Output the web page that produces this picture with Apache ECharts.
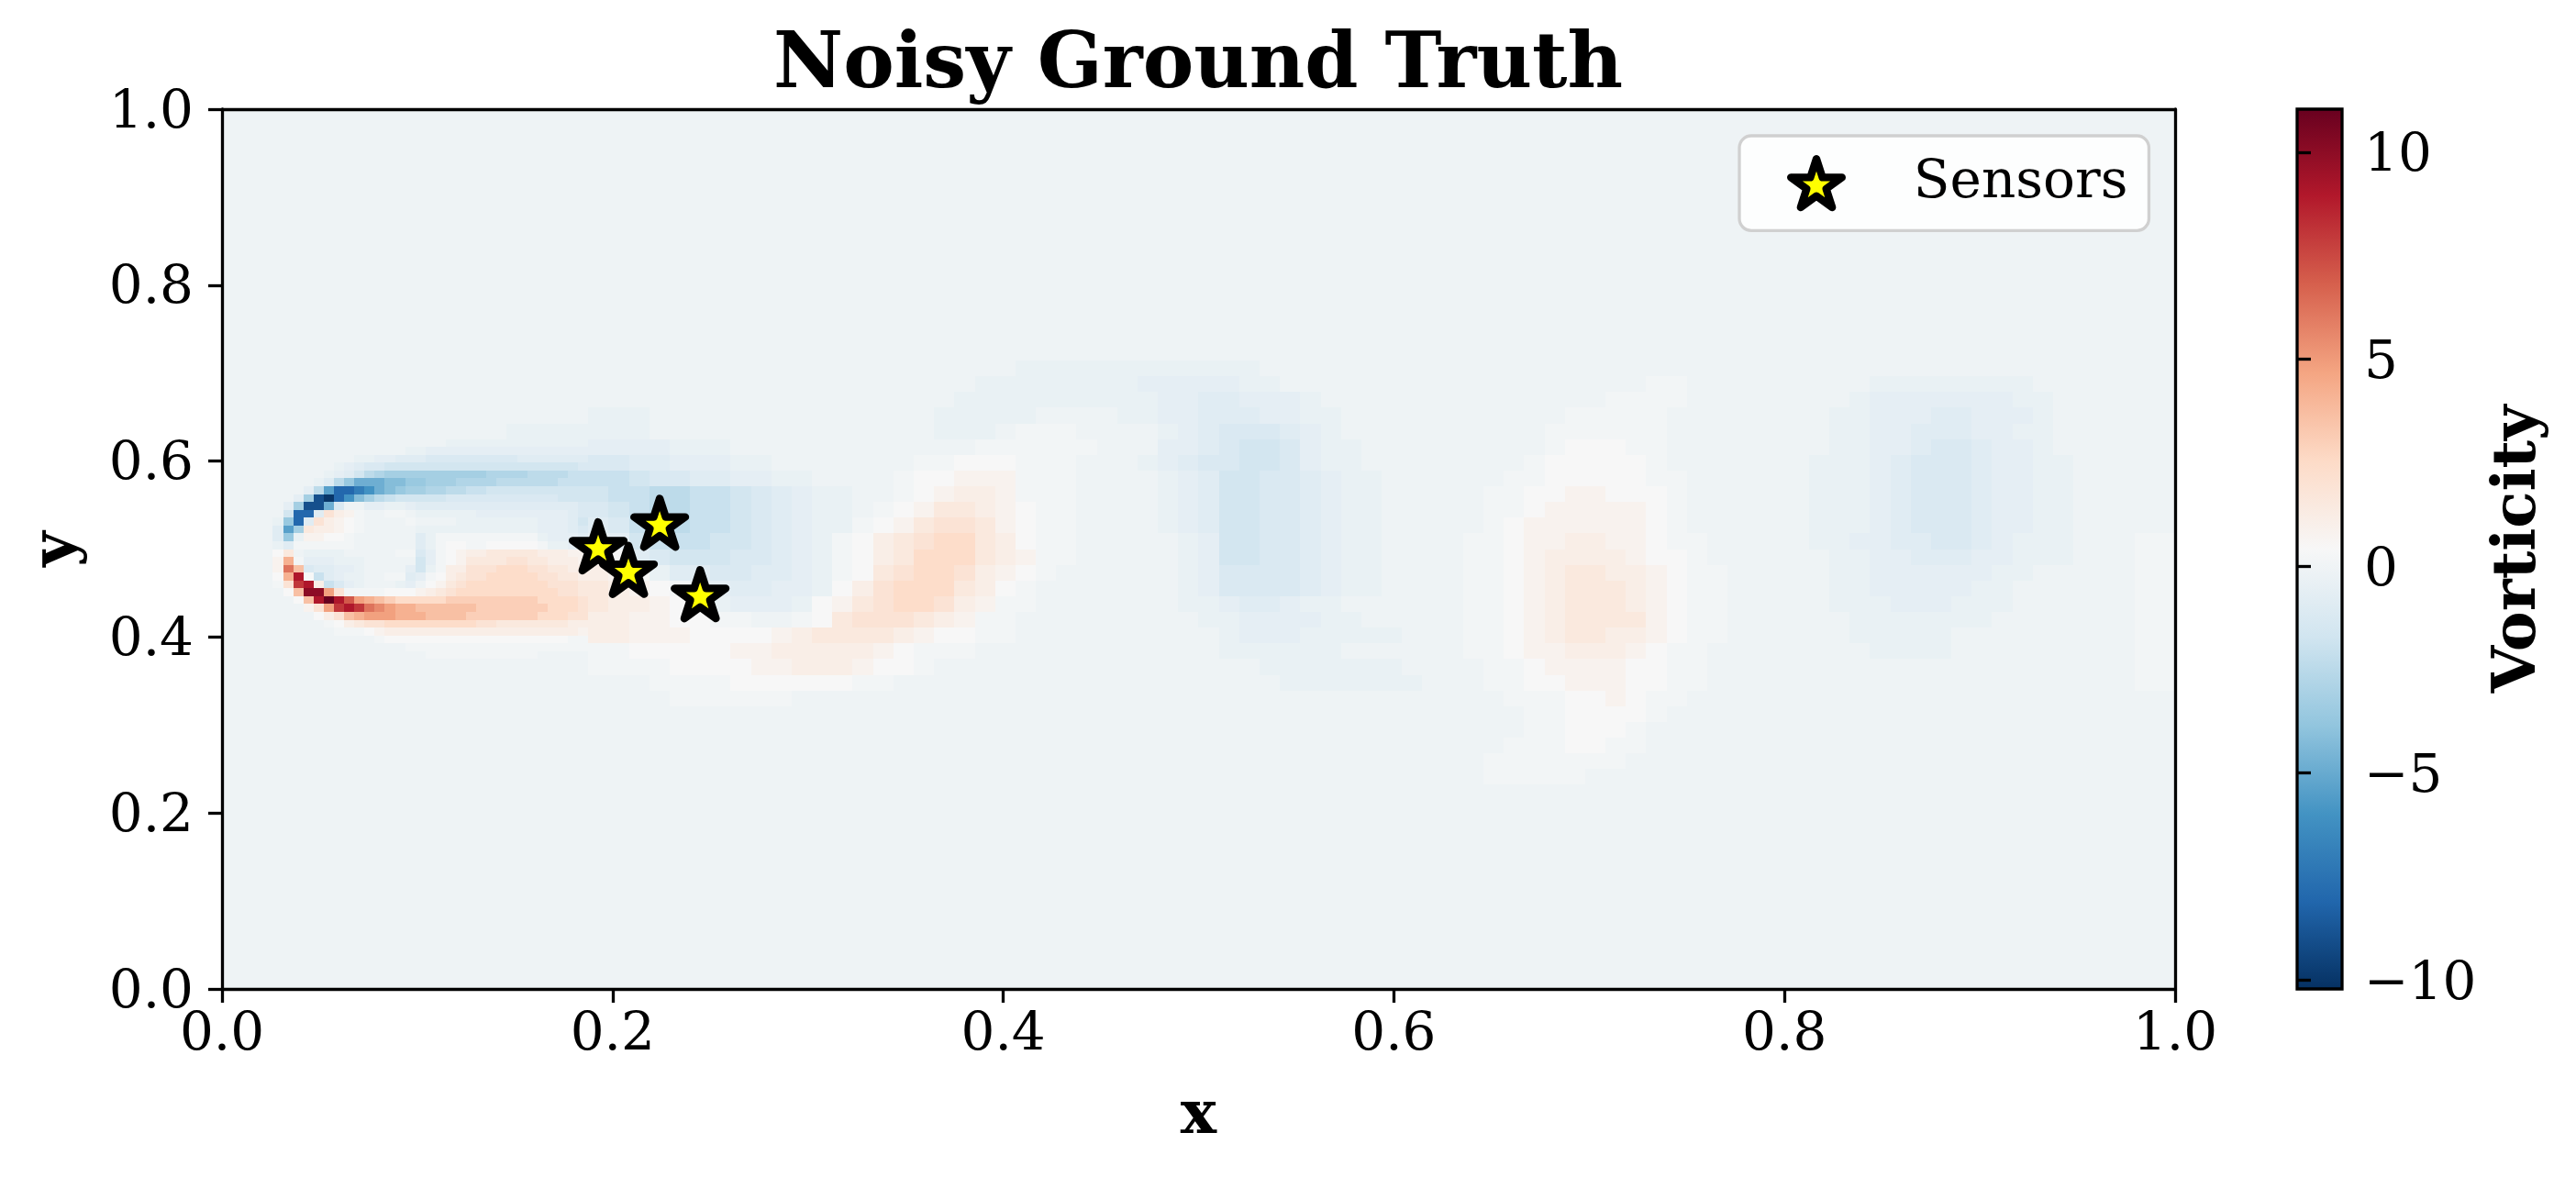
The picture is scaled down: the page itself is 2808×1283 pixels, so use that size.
<!DOCTYPE html>
<html><head><meta charset="utf-8">
<style>html,body{margin:0;padding:0;background:#fff}#c{width:2808px;height:1283px}</style>
<script src="https://cdn.jsdelivr.net/npm/echarts@6/dist/echarts.min.js"></script>
</head><body><div id="c"></div>
<script>
// Field size of the reference image
const gridCols = 192, gridRows = 112;
// Letter -> vorticity level
const levelChars = "ijklmnopqrstuvwxyz.-ABCDEFGHIJKLMNOPQ";
const levelValues = [-10,-9,-8,-7,-6,-5.4,-4.8,-4.2,-3.6,-3.2,-2.8,-2.4,-2,-1.6,-1.2,-0.9,-0.6,-0.35,-0.1,0.15,0.4,0.8,1.1,1.5,1.9,2.4,3,3.6,4.2,4.8,5.5,6.2,7,8,9,10,11];
const backgroundLevel = '.';
// Wake, read in blocks of 2x2 cells; first row is block row 16
const wakeStartBlock = 16;
const wakeRows = [
"..........|..........|..........|.........z|zzzzzzzzzz|z",
"..........|..........|..........|.......zzz|zzzzzyyyyy|zz........|..........|--........|.zzzzzzzz.",
"..........|..........|..........|......zzzz|zzzzzzyyxx|yyyz......|........--|--........|zyyyyyyyzz",
"..........|........zz|z.........|.....zzzzz|....zzyyxx|xyyzz.....|......----|-........z|zyyyxxyyyz",
"..........|....zzzzzz|z.........|.....zzz.-|--....zyxw|wwxyz.....|.....-----|-........z|zyyxxxyyzz",
"..........|........yy|yyzzz.....|.......---|---...yyxw|vvwyzz....|.....-AAA-|-........z|zyyxwwxyyz",
"..........|........ww|xxyyyzz...|....--AAA-|--...zyxww|vvwyzz....|....-AAAAA|-.......zz|zyxwwwxyyz|z",
"..........|........uu|vwwxxyyzz.|...-AABBB-|--....zyxv|vwwxyzz...|...--AAAAA|--......zz|zyxwwwxyyz|z",
"..........|........vu|uttuuvwxyz|z..-ABCCB-|--....zyxv|vwwxyzz...|..--AABBAA|A-......zz|zyxwwwxyyz|z",
"..........|........wv|uttuuvwxyz|z.-ABDDCBA|--....zyxv|vwwxyzz...|..--ABBBBB|A-......zz|zyxwwwxyyz|z",
"..........|........xw|uttuuvwxyz|z-ABDEEDBA|--....zyxv|vwwxyzz...|..-ABBBBBB|A-......zz|zyxwwwxyyz|z",
"..........|........zy|vuuuvvwxyz|-ACDEFFDCA|--.....zyv|vwwxyzz...|.--ABBCCBB|A--.....zz|yyxxwwxyzz|z...--",
"..........|........BA|xwvvvwwxyz|-ACDFFFDCB|--.....zyv|vwwxyzz...|.--ABCCCCB|AA-......z|zyyxxxyyzz|z...--",
"..........|........CB|Azxxwwxxyz|-ADEFFECBA|-......zyw|wwwxyzz...|.--ABCDDCC|BA--.....z|zyyyyyyzz.|....--",
"..........|........DC|BA-zyxxyyz|ACEFFFDCA-|.......zyw|wwwxyzz...|.--ABCDDDC|BA--.....z|zyyyyyzz..|....--",
"..........|........DC|CBA-zyyyzA|BDEFFECB--|.......zzy|xxyzz.....|.--ABCDDDC|BA--.....z|zzyyyzzz..|....--",
"..........|........CC|BBAA--..-A|DEEEDCB--.|........zz|yyyyzz....|.--ABCDDDD|BA--......|zzzzzzz...|....--",
"..........|........CC|BBBAAAABCD|DDDCBAA--.|.........z|yyyzzzzz..|.--ABCDDCC|BA--......|zzzzz.....|....--",
"..........|........--|AAAAABBCCC|CCBA---...|.........z|zzzzz.....|.--ABBCCCB|A--.......|.zzzz.....|....--",
"..........|........--|--AAAABBCC|CBAA-.....|..........|.zzzzzzz..|..--ABBBBA|A--.......|..........|....--",
"..........|..........|.----AAAAA|A--.......|..........|..zzzzzzz.|..--AABBBA|A--.......|..........|....--",
"..........|..........|..------..|..........|..........|..........|...---AABA|--",
"..........|..........|..........|..........|..........|..........|....--AAAA|-",
"..........|..........|..........|..........|..........|..........|....--AAA-",
"..........|..........|..........|..........|..........|..........|...---AA--",
"..........|..........|..........|..........|..........|..........|..-------.",
"..........|..........|..........|..........|..........|..........|..-----..."
];
// Recirculation zone, read cell by cell; columns 4-35, rows 42-69
const nearStartCol = 4, nearStartRow = 42;
const nearRows = [
"......|..........|..zzzzzzzz|zzzzzz",
"......|........zz|yyyyyyyyyy|yyyyyy",
"......|...zzyyxxx|wwwwwwwwwx|xxxxxx",
"......|.zyxwwvvvv|vvvvvvvvvv|vvvvvw",
"......|zyxvtsrrrr|rrrrrrssss|ttttuu",
".....z|xtqoooppqq|rrrssssttt|tttuuu",
"....yt|nkklmopqrr|ssttuuvvvv|vvvvvv",
"...yrj|ikmprtuvvv|vvwwwwwwww|wwwvvv",
"..yrjj|ow..yyzzyx|xxxxxxxxxx|xxxxxw",
"..vkkx|ECB-..--.z|zzzzzyyyyy|yyyyxw",
".zqkxE|CBA-....-.|...zzzzzzz|zyyyxv",
".xnrDC|CBA-.....z|zzzzzzzzzz|zyyyxw",
".xqzBB|AA-......x|z---------|-zyyyx",
".zx---|---......x|z-AA--AAAA|A-zzyy",
".AD.zz|zz.....--w|y-ABCCDDDD|DCCCBB",
".BI-yy|yzzz.....v|y-ABDDDDEE|DDCCCB",
".BLHwx|xyyz....yv|z-CCEEEFFF|EEDDCC",
".AIOAu|xyzz..--xy|-ACDEEFFFF|FEEDDC",
".-ENOC|uwyz...zy.|ABDEFFFFFF|FFEEED",
"..AHPP|JE----AAAB|CDEFFFFFFF|FFFEED",
"...AHO|QOMJIHGFFF|FFGGGGGGGG|GFFFFE",
"....BE|JNONLKJIIH|HHHHHGGGGG|GGFFFE",
".....A|CEHIJJJIII|HHHHGGGGGG|GFFFEE",
"......|-ACDEEFFFF|FFFFFEEDDD|DDDDCC",
"......|.---ABCCCC|CCCCCCCCCC|CCCCCB",
"......|.....-AAAA|AAAAAAAAAA|AAAA--",
"......|........--|----------|------",
"......|..........|----------|-....."
];
// Sensors
const sensorX = [0.1926, 0.2081, 0.2241, 0.2448];
const sensorY = [0.5002, 0.4734, 0.5269, 0.4458];
const sensorName = 'Sensors';
// Axes
const xTicks = 0.2, yTicks = 0.2;
const vMin = -10.22, vMax = 11.04;
const cbarTicks = [-10, -5, 0, 5, 10];
const rdBu = ['#053061','#2166ac','#4393c3','#92c5de','#d1e5f0','#f7f7f7','#fddbc7','#f4a582','#d6604d','#b2182b','#67001f'];
const labels = {title:'Noisy Ground Truth', x:'x', y:'y', cbar:'Vorticity'};
const starPath = 'path://M100 0L122.45 69.1L195.1 69.1L136.33 111.8L158.8 180.9L100 138.2L41.2 180.9L63.67 111.8L4.9 69.1L77.55 69.1Z';

const font = 'DejaVu Serif';
const clean = s => s.replace(/\|/g, '');
const wake = wakeRows.map(clean), near = nearRows.map(clean);
function charAt(r, c) {
  const nr = near[r - nearStartRow];
  if (nr && c >= nearStartCol && c - nearStartCol < nr.length) return nr[c - nearStartCol];
  const wr = wake[(r >> 1) - wakeStartBlock];
  return (wr && wr[c >> 1]) || backgroundLevel;
}
const cells = [];
for (let r = 0; r < gridRows; r++) for (let c = 0; c < gridCols; c++) {
  cells.push([(c + .5) / gridCols, 1 - (r + .5) / gridRows, levelValues[levelChars.indexOf(charAt(r, c))]]);
}
const sensors = sensorX.map((x, i) => [x, sensorY[i]]);

const G = {l:242, t:119, w:2129, h:959};
const lw = 3.3;
const axisText = {color:'#000', fontFamily:font, fontSize:58};
const nameText = {color:'#000', fontFamily:font, fontSize:66, fontWeight:'bold'};
const fmt = v => v.toFixed(1);
const line = {show:true, onZero:false, lineStyle:{color:'#000', width:lw}};
const tick = {show:true, length:15, lineStyle:{color:'#000', width:lw}};

const chart = echarts.init(document.getElementById('c'), null, {renderer:'canvas', width:2808, height:1283});
chart.setOption({
  animation:false,
  backgroundColor:'#fff',
  title:{text:labels.title, left:1301, textAlign:'center', top:27,
         textStyle:{color:'#000', fontFamily:font, fontSize:83.3, fontWeight:'bold'}},
  legend:{data:[{name:sensorName, icon:starPath,
                 itemStyle:{color:'#ffff00', borderColor:'#000', borderWidth:8.3, borderJoin:'round'}}],
          left:1896, top:148, orient:'horizontal', selectedMode:false,
          itemWidth:55.7, itemHeight:53, padding:[21,23,21,52],
          backgroundColor:'rgba(255,255,255,0.85)', borderColor:'#d0d0d0', borderWidth:3.3, borderRadius:13,
          formatter:'{a|' + sensorName + '}',
          textStyle:{rich:{a:{fontFamily:font, fontSize:58, color:'#000', padding:[0,0,0,73]}}}},
  grid:[{left:G.l, top:G.t, width:G.w, height:G.h},
        {left:2504, top:G.t, width:49, height:G.h}],
  xAxis:[
    {gridIndex:0, type:'value', min:0, max:1, interval:xTicks, position:'bottom', z:5,
     axisLine:line, axisTick:tick, splitLine:{show:false},
     axisLabel:{...axisText, margin:22, formatter:fmt},
     name:labels.x, nameLocation:'middle', nameGap:107, nameTextStyle:nameText},
    {gridIndex:0, type:'value', min:0, max:1, position:'top', z:5,
     axisLine:line, axisTick:{show:false}, axisLabel:{show:false}, splitLine:{show:false}},
    {gridIndex:1, type:'value', min:0, max:1, show:false}
  ],
  yAxis:[
    {gridIndex:0, type:'value', min:0, max:1, interval:yTicks, position:'left', z:5,
     axisLine:line, axisTick:tick, splitLine:{show:false},
     axisLabel:{...axisText, margin:31, formatter:v => '{a|' + fmt(v) + '}',
                rich:{a:{...axisText, padding:[9,0,0,0]}}},
     name:labels.y, nameLocation:'middle', nameGap:146, nameTextStyle:nameText},
    {gridIndex:0, type:'value', min:0, max:1, position:'right', z:5,
     axisLine:line, axisTick:{show:false}, axisLabel:{show:false}, splitLine:{show:false}},
    {gridIndex:1, type:'value', min:vMin, max:vMax, position:'right', z:5,
     axisLine:{show:false}, splitLine:{show:false},
     axisTick:{...tick, customValues:cbarTicks},
     axisLabel:{...axisText, margin:24, customValues:cbarTicks,
                formatter:v => '{a|' + String(v).replace('-', '\u2212') + '}',
                rich:{a:{...axisText, padding:[11,0,0,0]}}},
     name:labels.cbar, nameLocation:'middle', nameGap:160, nameRotate:90, nameTextStyle:nameText}
  ],
  visualMap:[{type:'continuous', show:false, seriesIndex:0, dimension:2, min:vMin, max:vMax, inRange:{color:rdBu}}],
  series:[
    {type:'custom', xAxisIndex:0, yAxisIndex:0, coordinateSystem:'cartesian2d', silent:true, progressive:0, animation:false, z:2,
     clip:true, data:cells, dimensions:['x','y','v'], encode:{x:0, y:1},
     renderItem:(p, api) => {
       const a = api.coord([api.value(0) - .5/gridCols, api.value(1) + .5/gridRows]);
       const b = api.coord([api.value(0) + .5/gridCols, api.value(1) - .5/gridRows]);
       const x0 = Math.round(a[0]), y0 = Math.round(a[1]), x1 = Math.round(b[0]), y1 = Math.round(b[1]);
       return {type:'rect', shape:{x:x0, y:y0, width:x1-x0, height:y1-y0}, style:{fill:api.visual('color')}};
     }},
    {type:'custom', xAxisIndex:2, yAxisIndex:2, coordinateSystem:'cartesian2d', silent:true, animation:false, z:2,
     data:[[0, vMin, 1, vMax]], encode:{x:[0,2], y:[1,3]},
     renderItem:(p, api) => {
       const a = api.coord([api.value(0), api.value(3)]);
       const b = api.coord([api.value(2), api.value(1)]);
       return {type:'rect', shape:{x:a[0], y:a[1], width:b[0]-a[0], height:b[1]-a[1]},
         style:{stroke:'#000', lineWidth:lw,
           fill:new echarts.graphic.LinearGradient(0,1,0,0, rdBu.map((c,i)=>({offset:i/(rdBu.length-1), color:c})))}};
     }},
    {type:'scatter', name:sensorName, xAxisIndex:0, yAxisIndex:0, data:sensors, z:4, animation:false,
     symbol:starPath, symbolSize:[55.7,53], symbolOffset:[0,-2.8], silent:true,
     itemStyle:{color:'#ffff00', borderColor:'#000', borderWidth:8.3, borderJoin:'round', opacity:1}}
  ]
});
</script></body></html>
